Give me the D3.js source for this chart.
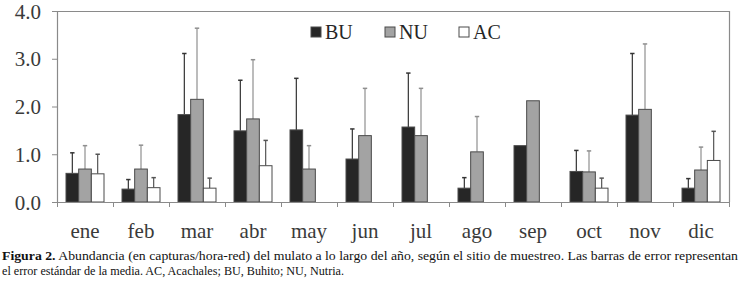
<!DOCTYPE html>
<html><head><meta charset="utf-8">
<script src="https://cdn.jsdelivr.net/npm/d3@7"></script>
<style>
html,body{margin:0;padding:0;background:#fff;}
svg{display:block;}
</style></head>
<body>
<svg id="chart" width="741" height="281"></svg>
<script>
const months = ["ene","feb","mar","abr","may","jun","jul","ago","sep","oct","nov","dic"];
const seriesNames = ["BU","NU","AC"];
const buValues = [0.60,0.27,1.83,1.49,1.51,0.90,1.57,0.29,1.18,0.64,1.82,0.29];
const nuValues = [0.69,0.69,2.15,1.74,0.69,1.39,1.39,1.05,2.12,0.63,1.94,0.67];
const acValues = [0.59,0.30,0.29,0.76,null,null,null,null,null,0.29,null,0.87];
const buErrTop = [1.03,0.47,3.11,2.55,2.59,1.53,2.70,0.51,null,1.08,3.11,0.49];
const nuErrTop = [1.18,1.19,3.64,2.98,1.18,2.38,2.38,1.79,null,1.07,3.31,1.15];
const acErrTop = [1.00,0.51,0.50,1.29,null,null,null,null,null,0.50,null,1.48];
const yTicks = [0,1,2,3,4];
const captionBold = "Figura 2.";
const captionLine1 = " Abundancia (en capturas/hora-red) del mulato a lo largo del año, según el sitio de muestreo. Las barras de error representan";
const captionLine2 = "el error estándar de la media. AC, Acachales; BU, Buhito; NU, Nutria.";

const fills = {BU:"#262626", NU:"#a3a3a3", AC:"#ffffff"};
const errColors = {BU:"#333333", NU:"#8f8f8f", AC:"#555555"};
const valuesBy = {BU:buValues, NU:nuValues, AC:acValues};
const errBy = {BU:buErrTop, NU:nuErrTop, AC:acErrTop};

const svg = d3.select("#chart");
const mL = 57, mR = 729, mT = 11, mB = 202;
const x = d3.scaleBand().domain(months).range([mL, mR]).paddingInner(0).paddingOuter(0);
const y = d3.scaleLinear().domain([0,4]).range([mB, mT]);
const groupW = 38;
const xs = d3.scaleBand().domain(seriesNames).range([0, groupW]).padding(0);
const off = (x.bandwidth() - groupW) / 2;
const serif = "'Liberation Serif','Times New Roman',serif";
const axisColor = "#8a8a8a";

// frame (top & right)
svg.append("path")
  .attr("d", `M${mL},${mT + 0.5}H${mR + 0.5}V${mB}`)
  .attr("fill","none").attr("stroke", axisColor).attr("stroke-width",1.2);

// bars
const data = [];
months.forEach((m,i) => seriesNames.forEach(s => {
  const v = valuesBy[s][i];
  if (v != null) data.push({m, s, v, e: errBy[s][i]});
}));

// error bars (drawn first so bars cover them)
const errData = data.filter(d => d.e != null);
svg.append("g").selectAll("g").data(errData).join("g").each(function(d){
  const cx = x(d.m) + off + xs(d.s) + xs.bandwidth()/2;
  const g = d3.select(this);
  g.append("line").attr("x1",cx).attr("x2",cx).attr("y1",y(d.v)).attr("y2",y(d.e))
    .attr("stroke", errColors[d.s]).attr("stroke-width",1.2);
  g.append("line").attr("x1",cx-2.2).attr("x2",cx+2.2).attr("y1",y(d.e)).attr("y2",y(d.e))
    .attr("stroke", errColors[d.s]).attr("stroke-width",1.5);
});

svg.append("g").selectAll("rect").data(data).join("rect")
  .attr("x", d => x(d.m) + off + xs(d.s))
  .attr("width", xs.bandwidth())
  .attr("y", d => y(d.v))
  .attr("height", d => y(0) - y(d.v))
  .attr("fill", d => fills[d.s])
  .attr("stroke", "#4a4a4a").attr("stroke-width", 1);

// y axis
const yAxis = svg.append("g").attr("transform", `translate(${mL},0)`)
  .call(d3.axisLeft(y).tickValues(yTicks).tickFormat(d3.format(".1f")).tickSize(5).tickPadding(11));
yAxis.select(".domain").attr("stroke", axisColor).attr("stroke-width",1.2);
yAxis.selectAll(".tick line").attr("stroke", axisColor);
yAxis.selectAll("text").attr("font-family", serif).attr("font-size", 21).attr("fill","#3a3a3a").attr("dy","0.34em");

// x axis
const xAxis = svg.append("g").attr("transform", `translate(0,${mB})`)
  .call(d3.axisBottom(x).tickSize(0).tickPadding(21));
xAxis.select(".domain").attr("stroke", axisColor).attr("stroke-width",1.2);
xAxis.selectAll("text").attr("font-family", serif).attr("font-size", 21).attr("fill","#3a3a3a");
// ticks at band boundaries
const bounds = months.map(m => x(m)).concat([mR]);
xAxis.append("g").selectAll("line").data(bounds).join("line")
  .attr("x1", d => d + 0.5).attr("x2", d => d + 0.5).attr("y1", 0).attr("y2", 5)
  .attr("stroke", axisColor);

// legend
const legX = d3.scalePoint().domain(seriesNames).range([311, 459]);
const leg = svg.append("g").selectAll("g").data(seriesNames).join("g")
  .attr("transform", d => `translate(${legX(d)},27)`);
leg.append("rect").attr("width",10).attr("height",10)
  .attr("fill", d => fills[d]).attr("stroke","#4a4a4a").attr("stroke-width",1);
leg.append("text").attr("x",14).attr("y",12).text(d => d)
  .attr("font-family", serif).attr("font-size", 20).attr("fill","#262626");

// caption
const cap1 = svg.append("text").attr("x",2).attr("y",260)
  .attr("font-family", serif).attr("font-size",13).attr("fill","#111")
  .attr("textLength", 736).attr("lengthAdjust","spacingAndGlyphs");
cap1.append("tspan").attr("font-weight","bold").text(captionBold);
cap1.append("tspan").text(captionLine1);
svg.append("text").attr("x",2).attr("y",275)
  .attr("font-family", serif).attr("font-size",13).attr("fill","#111")
  .attr("textLength", 342).attr("lengthAdjust","spacingAndGlyphs")
  .text(captionLine2);
</script>
</body></html>
